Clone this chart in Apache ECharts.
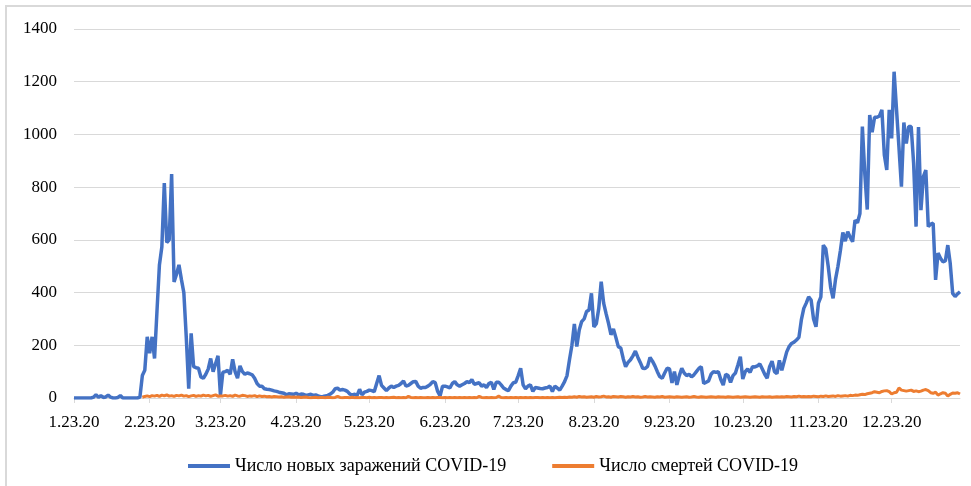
<!DOCTYPE html>
<html>
<head>
<meta charset="utf-8">
<script src="https://cdn.jsdelivr.net/npm/echarts@6/dist/echarts.min.js"></script>
<style>
  html, body { margin: 0; padding: 0; background: #fff; }
  #chart { width: 971px; height: 486px; }
</style>
</head>
<body>
<div id="chart"></div>
<script>
// daily values, 23 Jan 2020 .. 20 Jan 2021
const startDate = Date.UTC(2020, 0, 23);

const newCases = [
  0, 0, 0, 0, 0, 0, 0, 0, 3, 12, 3, 9, 2, 4, 11, 3, 0, 0, 2, 9, 0, 0, 0, 0, 0, 0, 0,
  3, 85, 105, 232, 170, 232, 150, 330, 505, 574, 815, 590, 600, 850, 440, 470, 505, 450, 400, 230, 35, 245, 119, 115, 113,
  80, 75, 90, 110, 150, 100, 130, 160, 10, 98, 100, 105, 90, 147, 100, 75, 122, 100, 90, 95, 92, 88, 75, 55, 45,
  45, 35, 33, 32, 30, 27, 25, 22, 20, 18, 12, 16, 15, 14, 18, 12, 15, 14, 10, 12, 14, 10, 12, 8,
  5, 6, 8, 10, 15, 22, 35, 37, 30, 32, 30, 25, 15, 12, 14, 10, 33, 12, 22, 25, 30, 28, 24, 55, 85,
  48, 38, 28, 38, 45, 40, 45, 48, 55, 65, 45, 48, 55, 62, 63, 45, 37, 40, 40, 45, 52, 62, 58, 25, 8,
  45, 45, 42, 38, 55, 62, 50, 45, 50, 55,
  62, 58, 70, 52, 55, 58, 45, 50, 40, 55, 60, 32, 60, 60, 50, 38, 32, 28, 45, 58, 60, 85, 113, 50, 35,
  45, 50, 25, 40, 38, 36, 35, 38, 40, 45, 25, 45, 38, 30, 45, 62, 85, 145, 200, 281, 195, 258, 290, 300, 328,
  334, 397, 270, 282, 340, 441, 360, 320, 283, 240, 262, 230, 195, 190, 150, 119, 135, 145, 160, 178,
  155, 135, 113, 112, 120, 154, 140, 122, 100, 81, 75, 95, 113, 110, 57, 100, 50, 85, 113, 95, 85, 90, 80, 88, 100, 112,
  119, 55, 60, 65, 90, 100, 97, 100, 70, 49, 90, 85, 59, 85, 95, 125, 157, 72, 100, 110, 97, 119, 118, 122, 129,
  110, 90, 75, 119, 140, 100, 92, 143, 105, 140, 175, 195, 207, 212, 220, 230, 296, 340, 360, 384,
  372, 300, 270, 360, 384, 580, 566, 500, 420, 378, 450, 500, 560, 628, 595, 631, 610, 593, 675, 665,
  700, 1030, 850, 715, 1074, 1008, 1065, 1065, 1070, 1093, 922, 865, 1093, 985, 1238, 1093, 950, 802, 1045, 966,
  1030, 1030, 890, 650, 1028, 713, 840, 865, 650, 660, 663, 448, 550, 530, 517, 520, 580, 510, 397, 385, 395, 403
];

const deaths = [
  '-', '-', '-', '-', '-', '-', '-', '-', '-', '-', '-', '-', '-', '-', '-', '-', '-', '-', '-', '-',
  '-', '-', '-', '-', '-', '-', '-', '-',
  3, 6, 8, 5, 9, 7, 10, 6, 11, 8, 12, 7, 9, 6, 10, 8, 11, 7, 9, 5, 8, 10, 6, 9, 7, 11, 8, 10, 6, 9, 12, 7, 8,
  8, 10, 7, 9, 6, 11, 8, 7, 10, 9, 6, 8, 7, 9, 5, 8, 6, 7, 5, 6, 4, 6, 5, 4, 5, 3, 4, 5, 3, 4, 3, 4, 2, 3, 4,
  2, 1, 2, 3, 1, 2, 2, 1, 3, 2, 1, 2, 6, 2, 1, 2, 2, 1, 3, 1,
  2, 1, 2, 2, 1, 3, 1, 2, 1, 2, 2, 1, 2, 1, 2, 3, 1, 2, 1, 2,
  1, 6, 2, 1, 2, 1, 2, 1, 1, 2, 1, 2, 1, 2, 2, 1, 2, 1, 2, 1,
  2, 1, 2, 1, 2, 1, 2, 1, 2, 1, 6, 2, 1, 2, 1, 2, 1, 2, 7, 2,
  1, 2, 1, 2, 1, 2, 1, 2, 1, 2, 1, 2, 1, 2, 2, 1, 2, 1, 2, 1,
  2, 1, 2, 3, 2, 3, 2, 4, 3, 5, 3, 6, 4, 5, 3,
  4, 5, 3, 6, 4, 5, 7, 4, 5, 3, 6, 5, 4, 6, 5, 3, 5, 4, 6, 4,
  5, 3, 4, 6, 4, 5, 4, 3, 5, 4, 6, 3, 4, 5, 4, 3, 5, 4, 3, 4,
  5, 3, 4, 6, 4, 3, 5, 4, 3, 4, 5, 4, 3, 5, 4, 4, 3, 5, 4, 3,
  4, 5, 3, 4, 5, 4, 3, 4, 5, 4, 3, 5, 4, 4, 5, 3, 4, 5, 4, 5,
  4, 6, 5, 4, 6, 5, 7, 5, 6, 5,
  6, 5, 7, 6, 5, 7, 6, 8, 6, 7, 8, 6, 9, 7, 8, 9, 7, 10, 9, 11,
  10, 12, 14, 13, 16, 18, 20, 24, 22, 20, 25, 27, 28, 24, 15, 20, 22, 38, 30, 28,
  26, 28, 30, 25, 27, 24, 26, 30, 32, 28, 20, 18, 22, 11, 16, 20, 18, 7, 14, 19, 18, 20, 15
];

const seriesNames = ['Число новых заражений COVID-19', 'Число смертей COVID-19'];
const yTicks = [0, 200, 400, 600, 800, 1000, 1200, 1400];

// category labels like 1.23.20
const dates = newCases.map((v, i) => {
  const d = new Date(startDate + i * 86400000);
  return (d.getUTCMonth() + 1) + '.' + d.getUTCDate() + '.' + String(d.getUTCFullYear()).slice(2);
});

const isTickDay = (idx, val) => String(val).split('.')[1] === '23';

const font = 'Liberation Serif, Times New Roman, serif';

const chart = echarts.init(document.getElementById('chart'));
chart.setOption({
  animation: false,
  backgroundColor: '#fff',
  graphic: [{
    type: 'rect',
    shape: { x: 6, y: 6, width: 990, height: 500 },
    style: { fill: 'none', stroke: '#d9d9d9', lineWidth: 2 },
    silent: true
  }],
  grid: { left: 74, right: 11, top: 29, bottom: 88, containLabel: false },
  legend: {
    left: 183,
    top: 452,
    itemGap: 46,
    itemWidth: 42,
    itemHeight: 4,
    icon: 'rect',
    textStyle: { fontFamily: font, fontSize: 18, color: '#000' },
    data: seriesNames
  },
  xAxis: {
    type: 'category',
    boundaryGap: false,
    data: dates,
    axisLine: { lineStyle: { color: '#d9d9d9', width: 1 } },
    axisTick: { interval: isTickDay, length: 5, lineStyle: { color: '#d9d9d9' } },
    axisLabel: {
      interval: isTickDay,
      margin: 16,
      fontFamily: font,
      fontSize: 17,
      color: '#000'
    },
    splitLine: { show: false }
  },
  yAxis: {
    type: 'value',
    min: yTicks[0],
    max: yTicks[yTicks.length - 1],
    interval: 200,
    axisLine: { show: false },
    axisTick: { show: false },
    axisLabel: {
      margin: 17,
      fontFamily: font,
      fontSize: 17,
      color: '#000',
      formatter: v => String(v)
    },
    splitLine: { lineStyle: { color: '#d9d9d9', width: 1 } }
  },
  series: [
    {
      name: seriesNames[0],
      type: 'line',
      data: newCases,
      symbol: 'none',
      color: '#4472C4',
      lineStyle: { width: 3.5, color: '#4472C4' }
    },
    {
      name: seriesNames[1],
      type: 'line',
      data: deaths,
      symbol: 'none',
      color: '#ED7D31',
      lineStyle: { width: 3, color: '#ED7D31' }
    }
  ]
});
</script>
</body>
</html>
